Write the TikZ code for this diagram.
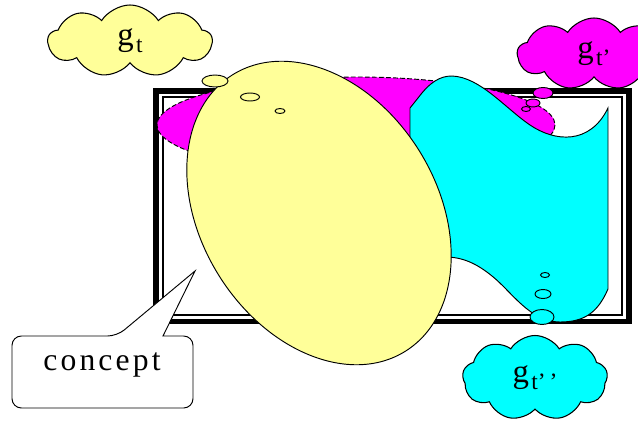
\documentclass[tikz,border=0pt]{standalone}
\usepackage{fontspec}
\setmainfont{Liberation Serif}
\newfontfamily\spacedfont[LetterSpace=10]{Liberation Serif}
\usepackage{tikz}
\usetikzlibrary{shapes.symbols}

\definecolor{paleyellow}{HTML}{FFFF99}
\definecolor{brightmagenta}{HTML}{FF00FF}
\definecolor{brightcyan}{HTML}{00FFFF}

\tikzset{
  thought/.style={cloud, cloud puffs=9, cloud puff arc=115, cloud ignores aspect,
    draw, line width=0.9pt, inner sep=0pt},
  bubble/.style={draw, line width=0.8pt},
}
\newcommand{\gsub}[1]{{\fontsize{28}{28}\selectfont g}\hspace{2pt}\raisebox{-6pt}{\fontsize{20}{20}\selectfont #1}}

\begin{document}
\begin{tikzpicture}[x=0.03cm, y=-0.03cm, line width=0.8pt]
  \clip (0,0) rectangle (638,423);
  % picture frame
  \draw[line width=4.7pt] (156,91) rectangle (629,321.5);
  \draw[line width=1.3pt] (163,97) rectangle (622,315);
  % magenta region, dashed
  \draw[fill=brightmagenta, dash pattern=on 4pt off 2pt] (356,125) ellipse [x radius=199, y radius=48];
  % cyan region
  \draw[fill=brightcyan] (410,257) -- (410,108) -- (418,98)
    .. controls (430,82) and (440,76) .. (452,76)
    .. controls (480,77) and (505,108) .. (530,125)
    .. controls (555,142) and (590,145) .. (608,108)
    -- (608,289)
    .. controls (598,312) and (585,322) .. (560,322)
    .. controls (530,322) and (512,292) .. (492,276)
    .. controls (476,263) and (462,257) .. (445,257) -- cycle;
  % yellow concept
  \draw[fill=paleyellow] (319,213) ellipse [x radius=163, y radius=118, rotate=-58];
  % thought clouds
  \node[thought, fill=paleyellow, minimum width=4.92cm, minimum height=2.16cm] (cloudT) at (130,41) {\gsub{t}};
  \node[thought, fill=brightmagenta, minimum width=4.6cm, minimum height=2.16cm] (cloudTp) at (594,54) {\gsub{t’}};
  \node[thought, fill=brightcyan, minimum width=4.35cm, minimum height=2.55cm] (cloudTpp) at (535,378) {\gsub{t’\,’}};
  % bubbles
  \foreach \cx/\cy/\rx/\ry in {215/81/13/6, 250/97/9.5/4, 280/111/5/2.5}
    \draw[bubble, fill=paleyellow] (\cx,\cy) ellipse [x radius=\rx, y radius=\ry];
  \foreach \cx/\cy/\rx/\ry in {543/93/10/5.5, 533/103/7/4, 526/109/4.5/2.5}
    \draw[bubble, fill=brightmagenta] (\cx,\cy) ellipse [x radius=\rx, y radius=\ry];
  \foreach \cx/\cy/\rx/\ry in {542/317/12/7.5, 543/294/8/4.5, 545/275/4.5/2.5}
    \draw[bubble, fill=brightcyan] (\cx,\cy) ellipse [x radius=\rx, y radius=\ry];
  % callout
  \draw[fill=white, rounded corners=8pt] (12,370) -- (12,336) -- (117,336)
    [sharp corners] -- (195,271) -- (163,336) [rounded corners=8pt]
    -- (193,336) -- (193,408) -- (12,408) -- cycle;
  \node (concept) at (102,365) {\spacedfont\fontsize{27}{27}\selectfont concept};
\end{tikzpicture}
\end{document}
